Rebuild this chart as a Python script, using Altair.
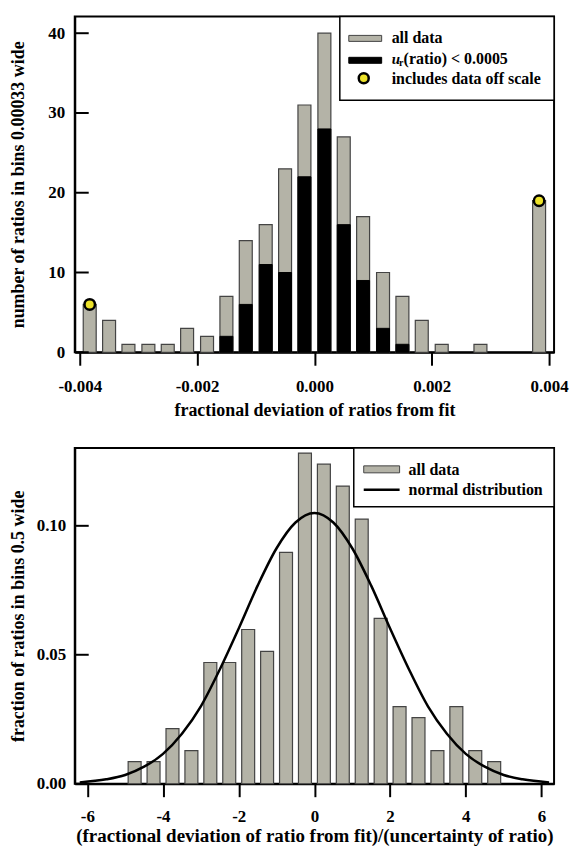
import altair as alt
import pandas as pd

# ---------------- data: top panel ----------------
top_bin_centers = [-0.00383, -0.00350, -0.00317, -0.00283, -0.00250, -0.00217, -0.00183,
                   -0.00150, -0.00117, -0.00083, -0.00050, -0.00017, 0.00017, 0.00050,
                   0.00083, 0.00117, 0.00150, 0.00183, 0.00217, 0.00283, 0.00383]
top_all_counts = [6, 4, 1, 1, 1, 3, 2, 7, 14, 16, 23, 31, 40, 27, 17, 10, 7, 4, 1, 1, 19]
low_unc_centers = [-0.00150, -0.00117, -0.00083, -0.00050, -0.00017, 0.00017, 0.00050,
                   0.00083, 0.00117, 0.00150]
low_unc_counts = [2, 6, 11, 10, 22, 28, 16, 9, 3, 1]
offscale_centers = [-0.00383, 0.00383]
offscale_counts = [6, 19]
top_x_ticks = [-0.004, -0.002, 0.0, 0.002, 0.004]
top_y_ticks = [0, 10, 20, 30, 40]

# ---------------- data: bottom panel ----------------
bot_bin_centers = [-4.75, -4.25, -3.75, -3.25, -2.75, -2.25, -1.75, -1.25, -0.75, -0.25,
                   0.25, 0.75, 1.25, 1.75, 2.25, 2.75, 3.25, 3.75, 4.25, 4.75]
bot_fractions = [0.0086, 0.0086, 0.0214, 0.0128, 0.0470, 0.0470, 0.0598, 0.0513, 0.0897, 0.1282,
                 0.1239, 0.1154, 0.1026, 0.0641, 0.0299, 0.0256, 0.0128, 0.0299, 0.0128, 0.0086]
curve_x = [-6.2, -5.5, -5.0, -4.5, -4.0, -3.5, -3.0, -2.5, -2.0, -1.5, -1.0, -0.5, 0.0,
           0.5, 1.0, 1.5, 2.0, 2.5, 3.0, 3.5, 4.0, 4.5, 5.0, 5.5, 6.2]
curve_y = [0.0005, 0.0017, 0.0034, 0.0066, 0.0116, 0.0194, 0.0300, 0.0443, 0.0602, 0.0768,
           0.0913, 0.1013, 0.1050, 0.1013, 0.0913, 0.0768, 0.0602, 0.0443, 0.0300, 0.0194,
           0.0116, 0.0066, 0.0034, 0.0017, 0.0005]
bot_x_ticks = [-6, -4, -2, 0, 2, 4, 6]
bot_y_ticks = [0.0, 0.05, 0.10]

GRAY = "#b4b3a7"
EDGE = "#444444"
YELLOW = "#ece22a"
FONT = "Liberation Serif"
W, H = 481, 337
BAR_W = 13
HYPHEN = "replace(datum.label, '\u2212', '-')"

one = pd.DataFrame({"k": [0]})


def vtext(txt, x, y, size=16, style="normal"):
    return alt.Chart(one).mark_text(
        align="left", baseline="middle", font=FONT, fontWeight="bold",
        fontSize=size, fontStyle=style, color="black"
    ).encode(x=alt.value(x), y=alt.value(y), text=alt.value(txt))


def vrect(x1, x2, y1, y2, fill, stroke, sw):
    return alt.Chart(one).mark_rect(fill=fill, stroke=stroke, strokeWidth=sw).encode(
        x=alt.value(x1), x2=alt.value(x2), y=alt.value(y1), y2=alt.value(y2))


# ================= top panel =================
xs_t = alt.Scale(domain=[-0.004, 0.004], nice=False, zero=False)
ys_t = alt.Scale(domain=[0, 42.1], nice=False)

x_axis_t = alt.Axis(values=top_x_ticks, format=".3f", labelExpr=HYPHEN,
                    title="fractional deviation of ratios from fit",
                    tickSize=13, labelPadding=13, titlePadding=7, labelFlush=False,
                    labelOverlap=False)
y_axis_t = alt.Axis(values=top_y_ticks, format="d", title="number of ratios in bins 0.00033 wide",
                    ticks=False, labelPadding=10, titleX=-47, titleBaseline="bottom")

XT = alt.X("x:Q", scale=xs_t, axis=x_axis_t)
YT = alt.Y("n:Q", scale=ys_t, axis=y_axis_t)

df_all = pd.DataFrame({"x": top_bin_centers, "n": top_all_counts})
df_low = pd.DataFrame({"x": low_unc_centers, "n": low_unc_counts})
df_off = pd.DataFrame({"x": offscale_centers, "n": offscale_counts})
df_tt = pd.DataFrame({"n": top_y_ticks})

t_all = alt.Chart(df_all).mark_bar(size=BAR_W, fill=GRAY, stroke=EDGE, strokeWidth=1.2).encode(
    x=XT, y=YT)
t_low = alt.Chart(df_low).mark_bar(size=BAR_W, fill="black", stroke="black", strokeWidth=1).encode(
    x=XT, y=YT)
t_off = alt.Chart(df_off).mark_point(shape="circle", filled=True, size=110, fill=YELLOW,
                                     stroke="black", strokeWidth=2.5, opacity=1).encode(
    x=XT, y=YT)
t_ticks = alt.Chart(df_tt).mark_rule(color="black", strokeWidth=2).encode(
    y=YT, x=alt.value(0), x2=alt.value(14))

t_leg = [
    vrect(266, 481, 0, 84, "white", "black", 1.5),
    vrect(275, 308, 19, 25, GRAY, EDGE, 1),
    vrect(275, 308, 41, 47, "black", "black", 1),
    alt.Chart(one).mark_point(shape="circle", filled=True, size=100, fill=YELLOW, stroke="black",
                              strokeWidth=2.5, opacity=1).encode(x=alt.value(290), y=alt.value(62)),
    vtext("all data", 318, 22),
    vtext("u", 318, 43, size=15, style="italic"),
    vtext("r", 325.5, 47, size=10),
    vtext("(ratio) < 0.0005", 330, 43),
    vtext("includes data off scale", 318, 63),
]

top = alt.layer(t_all, t_low, t_off, t_ticks, *t_leg).properties(width=W, height=H)

# ================= bottom panel =================
xs_b = alt.Scale(domain=[-6.2, 6.2], nice=False, zero=False)
ys_b = alt.Scale(domain=[0, 0.1302], nice=False)

x_axis_b = alt.Axis(values=bot_x_ticks, format="d", labelExpr=HYPHEN,
                    title="(fractional deviation of ratio from fit)/(uncertainty of ratio)",
                    tickSize=13, labelPadding=12, titlePadding=2, labelFlush=False,
                    labelOverlap=False, titleFontSize=19)
y_axis_b = alt.Axis(values=bot_y_ticks, format=".2f", title="fraction of ratios in bins 0.5 wide",
                    ticks=False, labelPadding=9, titleX=-47, titleBaseline="bottom")

XB = alt.X("x:Q", scale=xs_b, axis=x_axis_b)
YB = alt.Y("n:Q", scale=ys_b, axis=y_axis_b)

df_b = pd.DataFrame({"x": bot_bin_centers, "n": bot_fractions})
df_c = pd.DataFrame({"x": curve_x, "n": curve_y})
df_bt = pd.DataFrame({"n": bot_y_ticks})

b_bars = alt.Chart(df_b).mark_bar(size=BAR_W, fill=GRAY, stroke=EDGE, strokeWidth=1.2).encode(
    x=XB, y=YB)
b_curve = alt.Chart(df_c).mark_line(color="black", strokeWidth=2.5, interpolate="monotone").encode(
    x=XB, y=YB)
b_ticks = alt.Chart(df_bt).mark_rule(color="black", strokeWidth=2).encode(
    y=YB, x=alt.value(0), x2=alt.value(14))

b_leg = [
    vrect(280, 481, 0, 59, "white", "black", 1.5),
    vrect(290, 326, 18, 25, GRAY, EDGE, 1),
    alt.Chart(one).mark_rule(color="black", strokeWidth=2.5).encode(
        x=alt.value(290), x2=alt.value(326), y=alt.value(42)),
    vtext("all data", 335, 22),
    vtext("normal distribution", 335, 42),
]

bottom = alt.layer(b_bars, b_curve, b_ticks, *b_leg).properties(width=W, height=H)

chart = alt.vconcat(top, bottom, spacing=26).properties(
    padding={"left": 1, "top": 5, "right": 0, "bottom": 0}
).configure_view(stroke="black", strokeWidth=2).configure_axis(
    domainColor="black", domainWidth=2, tickColor="black", tickWidth=2, grid=False,
    labelFont=FONT, labelFontSize=17, labelFontWeight="bold", labelColor="black",
    titleFont=FONT, titleFontSize=18, titleFontWeight="bold", titleColor="black"
)

chart.save("out.html", embed_options={"renderer": "svg", "actions": False})
